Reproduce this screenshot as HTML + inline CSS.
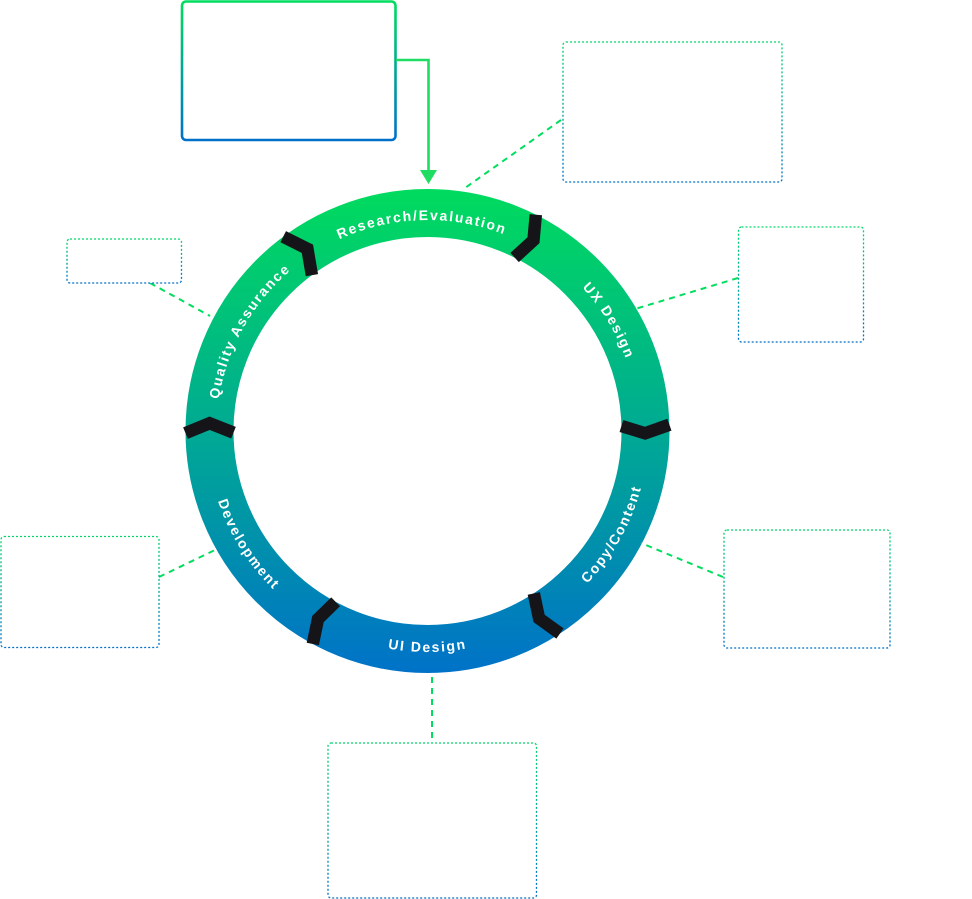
<!DOCTYPE html>
<html>
<head>
<meta charset="utf-8">
<style>
  html, body { margin: 0; padding: 0; background: #ffffff; }
  body { width: 972px; height: 899px; overflow: hidden; }
  svg { display: block; }
  .lbl { font-family: "Liberation Sans", "DejaVu Sans", sans-serif; font-weight: bold; font-size: 14px; letter-spacing: 1.7px; fill: #ffffff; }
</style>
</head>
<body>
<svg width="972" height="899" viewBox="0 0 972 899" xmlns="http://www.w3.org/2000/svg">
  <defs>
    <linearGradient id="ringGrad" gradientUnits="userSpaceOnUse" x1="0" y1="189" x2="0" y2="673">
      <stop offset="0" stop-color="#00DB5E"/>
      <stop offset="0.5" stop-color="#00AA93"/>
      <stop offset="1" stop-color="#0072C8"/>
    </linearGradient>
    <linearGradient id="boxGrad" x1="0" y1="0" x2="0" y2="1">
      <stop offset="0" stop-color="#00D86A"/>
      <stop offset="1" stop-color="#0070C9"/>
    </linearGradient>
    <linearGradient id="topBoxGrad" x1="0" y1="0" x2="0" y2="1">
      <stop offset="0" stop-color="#00DD5E"/>
      <stop offset="1" stop-color="#0070C9"/>
    </linearGradient>
    <path id="pResearch" d="M218.76,400.18 A211,211 0 0 1 634.19,388.57"/>
    <path id="pUX" d="M350.85,234.41 A211,211 0 0 1 566.76,589.52"/>
    <path id="pQA" d="M294.14,594.51 A211,211 0 0 1 496.89,231.74"/>
    <path id="pUI" d="M209.86,469.38 A221,221 0 0 0 645.14,469.38"/>
    <path id="pCopy" d="M354.82,639.71 A221,221 0 0 0 567.18,259.74"/>
    <path id="pDev" d="M278.76,267.54 A221,221 0 0 0 511.36,635.47"/>
  </defs>

  <!-- Ring -->
  <circle cx="427.5" cy="431" r="218" fill="none" stroke="url(#ringGrad)" stroke-width="48"/>

  <!-- Dashed connectors -->
  <g stroke="#00DE5E" stroke-width="2" stroke-dasharray="6 5" fill="none">
    <line x1="561" y1="120" x2="465" y2="188"/>
    <line x1="738" y1="278" x2="635" y2="309"/>
    <line x1="723" y1="577" x2="641" y2="543"/>
    <line x1="432" y1="677" x2="432" y2="742"/>
    <line x1="159" y1="577" x2="217" y2="549"/>
    <line x1="150" y1="283" x2="210" y2="316"/>
  </g>

  <!-- Dotted boxes -->
  <g fill="#ffffff" stroke="url(#boxGrad)" stroke-width="1.3" stroke-dasharray="2 2">
    <rect x="563" y="42" width="219" height="140" rx="3"/>
    <rect x="738.5" y="227" width="125" height="115" rx="3"/>
    <rect x="724" y="530" width="166" height="118" rx="3"/>
    <rect x="328" y="743" width="208.5" height="155" rx="3"/>
    <rect x="1" y="536.5" width="158" height="111" rx="3"/>
    <rect x="67" y="239" width="114.5" height="44" rx="3"/>
  </g>

  <!-- Top solid box -->
  <rect x="182" y="1.5" width="213.5" height="138.5" rx="4" fill="#ffffff" stroke="url(#topBoxGrad)" stroke-width="2.6"/>
  <polyline points="396,60 428.5,60 428.5,172" fill="none" stroke="#1FDD62" stroke-width="2.6"/>
  <polygon points="420,170 437,170 428.5,184" fill="#1FDD62"/>

  <!-- Chevrons -->
  <g fill="none" stroke="#151519" stroke-width="12.5" stroke-linejoin="miter" stroke-miterlimit="10" stroke-linecap="butt">
    <polyline points="535.8,214.7 533.5,240.2 514.6,257.5"/>
    <polyline points="669.4,424.7 645.1,433.3 621.4,426.0"/>
    <polyline points="560.0,633.5 539.1,618.5 533.8,593.4"/>
    <polyline points="312.8,644.0 318.0,619.0 335.6,601.8"/>
    <polyline points="185.5,433.1 209.6,423.2 233.5,432.7"/>
    <polyline points="283.2,236.7 307.4,248.8 311.9,275.2"/>
  </g>

  <!-- Labels -->
  <text class="lbl"><textPath href="#pResearch" startOffset="50%" text-anchor="middle">Research/Evaluation</textPath></text>
  <text class="lbl"><textPath href="#pUX" startOffset="50%" text-anchor="middle">UX Design</textPath></text>
  <text class="lbl"><textPath href="#pQA" startOffset="50%" text-anchor="middle">Quality Assurance</textPath></text>
  <text class="lbl"><textPath href="#pUI" startOffset="50%" text-anchor="middle">UI Design</textPath></text>
  <text class="lbl"><textPath href="#pCopy" startOffset="50%" text-anchor="middle">Copy/Content</textPath></text>
  <text class="lbl"><textPath href="#pDev" startOffset="50%" text-anchor="middle">Development</textPath></text>
</svg>
</body>
</html>
